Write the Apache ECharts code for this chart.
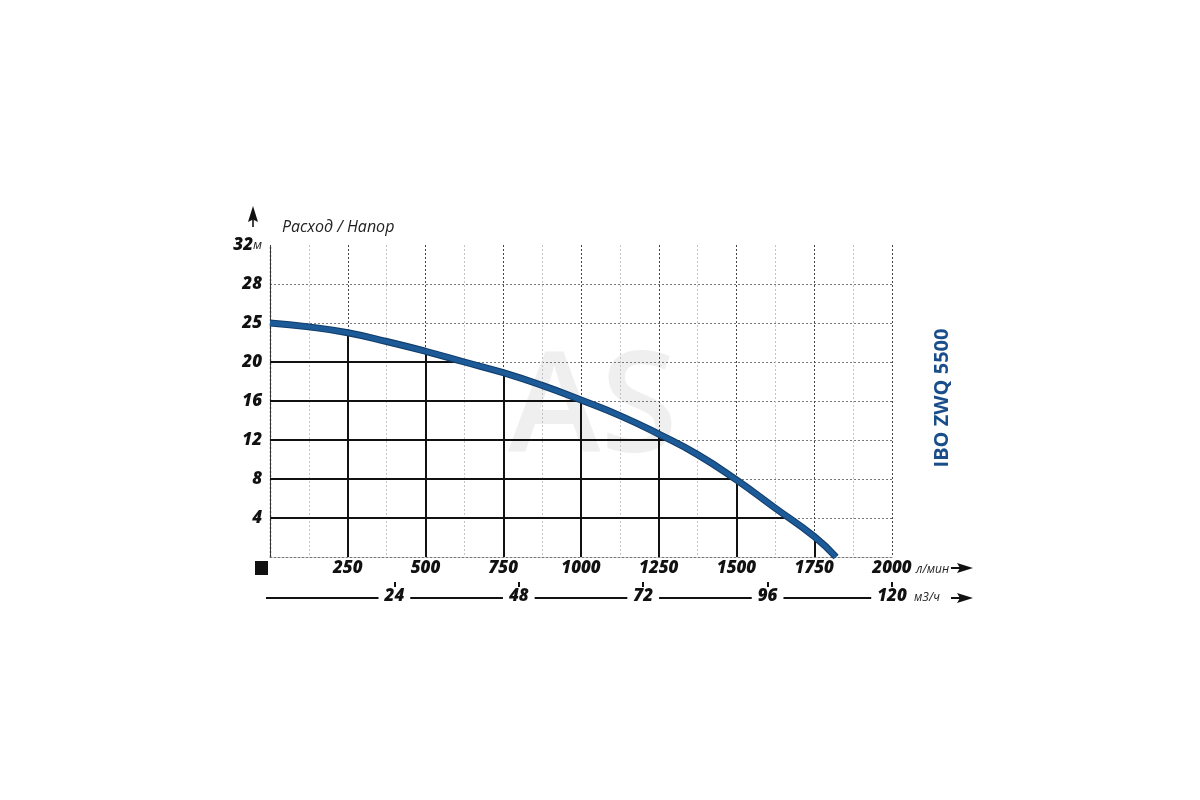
<!DOCTYPE html>
<html><head><meta charset="utf-8">
<script src="https://cdn.jsdelivr.net/npm/echarts@6/dist/echarts.min.js"></script>
<style>html,body{margin:0;padding:0;background:#fff}#c{width:1200px;height:800px}</style>
</head><body><div id="c"></div>
<script>
// Pump curve, flow in l/min, head in chart grid units (grid lines every 4)
const flowLmin = [0,125,250,375,500,625,750,875,1000,1125,1250,1375,1500,1625,1750,1820];
const headGrid = [24,23.6,23.0,22.1,21.1,20.0,18.9,17.6,16.1,14.5,12.6,10.5,7.9,5.0,2.1,0];
const yTickLabels = ['', '4', '8', '12', '16', '20', '25', '28', '32'];
const dropFlows = [250,500,750,1000,1250,1500,1750];
const dropHeads = [4,8,12,16,20];
const m3hTicks = [24,48,72,96,120];

const curve = flowLmin.map((f,i)=>[f, headGrid[i]]);
function headAt(f){
  for(let i=0;i<flowLmin.length-1;i++){
    if(f>=flowLmin[i] && f<=flowLmin[i+1]){
      const t=(f-flowLmin[i])/(flowLmin[i+1]-flowLmin[i]);
      return headGrid[i]+t*(headGrid[i+1]-headGrid[i]);
    }
  }
  return 0;
}
function flowAt(h){
  for(let i=0;i<headGrid.length-1;i++){
    if(h<=headGrid[i] && h>=headGrid[i+1]){
      const t=(headGrid[i]-h)/(headGrid[i]-headGrid[i+1]);
      return flowLmin[i]+t*(flowLmin[i+1]-flowLmin[i]);
    }
  }
  return 0;
}
const dropLines = [];
dropFlows.forEach(f=>dropLines.push({coords:[[f,0],[f,headAt(f)]]}));
dropHeads.forEach(h=>dropLines.push({coords:[[0,h],[flowAt(h),h]]}));

const FONT = "'Open Sans', 'DejaVu Sans', sans-serif";
const lbl = {fontFamily:FONT, fontStyle:'italic', fontWeight:800, fontSize:17, color:'#111'};
const unit = {fontFamily:FONT, fontStyle:'italic', fontWeight:400, fontSize:12, color:'#222'};

const chart = echarts.init(document.getElementById('c'), null, {renderer:'canvas'});
chart.setOption({
  animation:false,
  backgroundColor:'#fff',
  title:{text:'Расход / Напор', left:277, top:214,
    textStyle:{fontFamily:FONT, fontStyle:'italic', fontWeight:400, fontSize:16, color:'#222'}},
  grid:{left:270, right:308, top:245, bottom:243, containLabel:false},
  xAxis:[{
    type:'value', min:0, max:2000, interval:250, position:'bottom',
    axisLine:{show:true, lineStyle:{color:'#777', type:[2,2], width:1}},
    axisTick:{show:false},
    axisLabel:{show:true, showMinLabel:false, margin:3, formatter:v=>String(v), ...lbl},
    splitLine:{show:true, lineStyle:{color:'#444', type:[2,2], width:1}},
    minorTick:{show:false, splitNumber:2},
    minorSplitLine:{show:true, lineStyle:{color:'#c4c4c4', type:[2,2], width:1}}
  },{
    type:'value', min:0, max:120, interval:24, position:'bottom', offset:41,
    axisLine:{show:true, lineStyle:{color:'#111', width:2}},
    axisTick:{show:false},
    axisLabel:{show:true, showMinLabel:false, margin:-10, formatter:v=>String(v),
      backgroundColor:'#fff', padding:[0,6,0,6], ...lbl},
    splitLine:{show:false}
  },{
    type:'value', min:0, max:120, interval:24, position:'bottom', offset:30,
    axisLine:{show:false},
    axisTick:{show:true, inside:true, length:5, lineStyle:{color:'#111', width:2},
      customValues:m3hTicks},
    axisLabel:{show:false},
    splitLine:{show:false}
  }],
  yAxis:{
    type:'value', min:0, max:32, interval:4,
    axisLine:{show:true, lineStyle:{color:'#333', type:[2,2], width:1.3}},
    axisTick:{show:false},
    axisLabel:{show:true, showMinLabel:false, margin:8,
      formatter:v=>{const s=yTickLabels[Math.round(v/4)]; return v===32 ? '{b|'+s+'}{u|м}' : '{b|'+s+'}';},
      rich:{b:lbl, u:{...unit, fontSize:13}}},
    splitLine:{show:true, showMinLine:false, showMaxLine:false,
      lineStyle:{color:'#777', type:[2,2], width:1}}
  },
  graphic:[
    {type:'text', z:-10, x:508, y:412,
      style:{text:'AS', font:"600 140px 'Open Sans', sans-serif", fill:'#efefef', textVerticalAlign:'middle'}},
    {type:'text', z:10, x:942, y:398, rotation:Math.PI/2,
      style:{text:'IBO ZWQ 5500', font:"bold 20px 'Open Sans', sans-serif", fill:'#1a4e8a',
        textAlign:'center', textVerticalAlign:'middle'}},
    {type:'text', x:916, y:570,
      style:{text:'л/мин', font:"italic 12px 'Open Sans', sans-serif", fill:'#222', textVerticalAlign:'middle'}},
    {type:'text', x:914, y:598,
      style:{text:'м3/ч', font:"italic 12px 'Open Sans', sans-serif", fill:'#222', textVerticalAlign:'middle'}},
    {type:'rect', shape:{x:255, y:561, width:13, height:14}, style:{fill:'#111'}},
    {type:'polygon', shape:{points:[[253,206],[258,222],[253,219.5],[248,222]]}, style:{fill:'#111'}},
    {type:'line', shape:{x1:253, y1:219, x2:253, y2:227}, style:{stroke:'#111', lineWidth:1.6}},
    {type:'line', shape:{x1:951, y1:568, x2:962, y2:568}, style:{stroke:'#111', lineWidth:2}},
    {type:'polygon', shape:{points:[[973,568],[957,563],[960,568],[957,573]]}, style:{fill:'#111'}},
    {type:'line', shape:{x1:951, y1:598, x2:962, y2:598}, style:{stroke:'#111', lineWidth:2}},
    {type:'polygon', shape:{points:[[973,598],[957,593],[960,598],[957,603]]}, style:{fill:'#111'}},
    {type:'line', z:-1, shape:{x1:266, y1:598, x2:272, y2:598}, style:{stroke:'#111', lineWidth:2}}
  ],
  series:[
    {type:'lines', coordinateSystem:'cartesian2d', xAxisIndex:0, yAxisIndex:0, z:3,
      lineStyle:{color:'#111', width:2, opacity:1}, data:dropLines, silent:true},
    {type:'line', xAxisIndex:0, yAxisIndex:0, z:4, data:curve, smooth:0.5, showSymbol:false,
      lineStyle:{color:'#123e6c', width:7}, silent:true},
    {type:'line', xAxisIndex:0, yAxisIndex:0, z:5, data:curve, smooth:0.5, showSymbol:false,
      lineStyle:{color:'#1d5b98', width:4.8}, silent:true}
  ]
});
</script></body></html>
